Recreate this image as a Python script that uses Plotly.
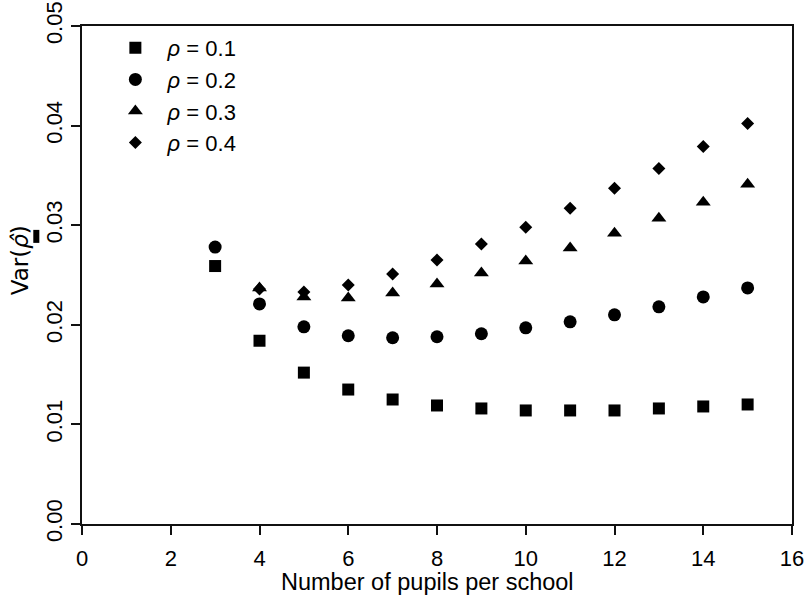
import plotly.graph_objects as go

pupils = [3, 4, 5, 6, 7, 8, 9, 10, 11, 12, 13, 14, 15]
var_rho_01 = [0.0259, 0.0184, 0.0152, 0.0135, 0.0125, 0.0119, 0.0116, 0.0114, 0.0114, 0.0114, 0.0116, 0.0118, 0.0120]
var_rho_02 = [0.0278, 0.0221, 0.0198, 0.0189, 0.0187, 0.0188, 0.0191, 0.0197, 0.0203, 0.0210, 0.0218, 0.0228, 0.0237]
var_rho_03 = [None, 0.0237, 0.0228, 0.0227, 0.0232, 0.0241, 0.0252, 0.0264, 0.0277, 0.0292, 0.0307, 0.0323, 0.0341]
var_rho_04 = [None, 0.0236, 0.0233, 0.0240, 0.0251, 0.0265, 0.0281, 0.0298, 0.0317, 0.0337, 0.0357, 0.0379, 0.0402]
series_names = ["<i>ρ</i> = 0.1", "<i>ρ</i> = 0.2", "<i>ρ</i> = 0.3", "<i>ρ</i> = 0.4"]
x_ticks = [0, 2, 4, 6, 8, 10, 12, 14, 16]
y_ticks = [0.00, 0.01, 0.02, 0.03, 0.04, 0.05]
x_title = "Number of pupils per school"
y_title = "Var(<i>ρ̂</i>)"

FONT = "Liberation Sans, Arial, sans-serif"
symbols = ["square", "circle", "triangle-up", "diamond"]
sizes = [12, 13, 13, 10]

fig = go.Figure()
for vals, name, sym, sz in zip([var_rho_01, var_rho_02, var_rho_03, var_rho_04],
                               series_names, symbols, sizes):
    fig.add_trace(go.Scatter(
        x=pupils, y=vals, mode="markers", name="  " + name,
        marker=dict(symbol=sym, size=sz, color="black", line=dict(width=0)),
    ))

axis_common = dict(
    showline=True, linecolor="#111111", linewidth=2, mirror=True,
    ticks="outside", ticklen=9, tickwidth=1.5, tickcolor="#111111",
    showgrid=False, zeroline=False, automargin=False,
    ticklabeloverflow="allow",
    tickfont=dict(family=FONT, size=22, color="black"),
)

fig.update_layout(
    width=807, height=599,
    margin=dict(l=82, r=15, t=26, b=75),
    paper_bgcolor="white", plot_bgcolor="white",
    font=dict(family=FONT, size=22, color="black"),
    showlegend=True,
    legend=dict(x=0.047, y=0.998, xanchor="left", yanchor="top",
                bgcolor="rgba(0,0,0,0)", font=dict(family=FONT, size=22),
                tracegroupgap=0, itemsizing="trace"),
    xaxis=dict(range=[0, 16], tickvals=x_ticks, ticktext=[str(v) for v in x_ticks],
               ticklabelstandoff=5, **axis_common),
    yaxis=dict(range=[0, 0.05], tickvals=y_ticks, ticktext=[f"{v:.2f}" for v in y_ticks],
               tickangle=-90, ticklabelstandoff=0, **axis_common),
    annotations=[
        dict(text=x_title, xref="paper", yref="paper", x=0.486, y=-0.116,
             xanchor="center", yanchor="middle", showarrow=False,
             font=dict(family=FONT, size=23.5, color="black")),
        dict(text=y_title, xref="paper", yref="paper", x=-0.087, y=0.53,
             xanchor="center", yanchor="middle", textangle=-90, showarrow=False,
             font=dict(family="DejaVu Sans, Liberation Sans, sans-serif", size=23, color="black")),
    ],
    shapes=[
        dict(type="rect", xref="paper", yref="paper",
             x0=-0.0686, x1=-0.0601, y0=0.5645, y1=0.5906,
             fillcolor="black", line=dict(width=0)),
    ],
)

# remove the default 8px page margin so the 807x599 figure fills the window exactly
fig.write_html("out.html",
               config={"displayModeBar": False},
               post_script="document.body.style.margin='0';document.body.style.overflow='hidden';")
